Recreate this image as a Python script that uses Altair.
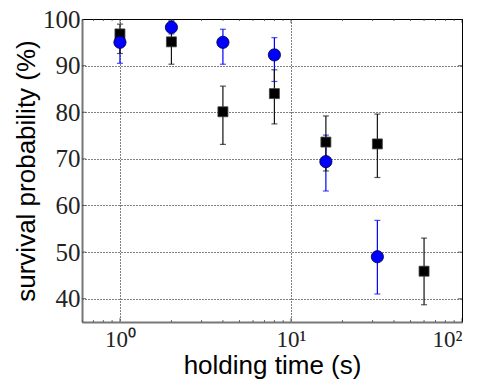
import altair as alt
import pandas as pd

# blue circles
blue_t = [1, 2, 4, 8, 16, 32]
blue_p = [95.0, 98.2, 95.0, 92.3, 69.4, 49.0]
blue_lo = [90.5, 96.8, 90.3, 86.6, 63.1, 41.0]
blue_hi = [97.5, 99.6, 97.8, 96.0, 75.1, 56.8]

# black squares
black_t = [1, 2, 4, 8, 16, 32, 60]
black_p = [96.8, 95.1, 80.1, 84.0, 73.6, 73.2, 45.9]
black_lo = [92.6, 90.3, 73.1, 77.5, 67.4, 66.0, 38.7]
black_hi = [98.9, 99.5, 85.6, 89.1, 79.2, 79.6, 53.0]

x_major = [1, 10, 100]
x_minor = [0.6, 0.7, 0.8, 0.9, 2, 3, 4, 5, 6, 7, 8, 9, 20, 30, 40, 50, 60, 70, 80, 90]
y_major = [40, 50, 60, 70, 80, 90]

blue = pd.DataFrame({"t": blue_t, "p": blue_p, "lo": blue_lo, "hi": blue_hi})
black = pd.DataFrame({"t": black_t, "p": black_p, "lo": black_lo, "hi": black_hi})
xt = pd.DataFrame({"t": x_major + x_minor, "len": [8] * len(x_major) + [4] * len(x_minor)})
yt = pd.DataFrame({"p": y_major})

xscale = alt.Scale(type="log", domain=[0.6, 100], nice=False)
yscale = alt.Scale(domain=[35, 100], nice=False, zero=False)

xaxis = alt.Axis(
    values=x_major,
    labelExpr="datum.value == 1 ? '10⁰' : datum.value == 10 ? '10¹' : '10²'",
    title="holding time (s)",
    grid=True,
)
yaxis = alt.Axis(values=y_major + [100], title="survival probability (%)", grid=True,
                 gridOpacity=1)


def X(field="t"):
    return alt.X(f"{field}:Q", scale=xscale, axis=xaxis)


def Y(field="p"):
    return alt.Y(f"{field}:Q", scale=yscale, axis=yaxis)


blue_col = "#0000ff"

blue_err = alt.Chart(blue).mark_rule(color=blue_col, strokeWidth=1.2).encode(
    x=X(), y=Y("lo"), y2="hi:Q")
blue_cap_lo = alt.Chart(blue).mark_tick(color=blue_col, orient="horizontal", size=6, thickness=1.2).encode(
    x=X(), y=Y("lo"))
blue_cap_hi = alt.Chart(blue).mark_tick(color=blue_col, orient="horizontal", size=6, thickness=1.2).encode(
    x=X(), y=Y("hi"))

black_err = alt.Chart(black).mark_rule(color="#111111", strokeWidth=1.2).encode(
    x=X(), y=Y("lo"), y2="hi:Q")
black_cap_lo = alt.Chart(black).mark_tick(color="#111111", orient="horizontal", size=6, thickness=1.2).encode(
    x=X(), y=Y("lo"))
black_cap_hi = alt.Chart(black).mark_tick(color="#111111", orient="horizontal", size=6, thickness=1.2).encode(
    x=X(), y=Y("hi"))

squares = alt.Chart(black).mark_point(shape="square", filled=True, color="black", size=100, opacity=1,
                                      stroke="#444444", strokeWidth=0.8).encode(x=X(), y=Y())
circles = alt.Chart(blue).mark_point(shape="circle", filled=True, color=blue_col, size=150, opacity=1,
                                     stroke="#000033", strokeWidth=0.8).encode(x=X(), y=Y())

xt_bottom = alt.Chart(xt).mark_tick(orient="vertical", color="#333333", thickness=1, clip=True).encode(
    x=X(), y=alt.Y(datum=35, scale=yscale, axis=yaxis), size=alt.Size("len:Q", scale=None, legend=None))
xt_top = alt.Chart(xt).mark_tick(orient="vertical", color="#333333", thickness=1, clip=True).encode(
    x=X(), y=alt.Y(datum=100, scale=yscale, axis=yaxis), size=alt.Size("len:Q", scale=None, legend=None))
yt_left = alt.Chart(yt).mark_tick(orient="horizontal", color="#333333", thickness=1, size=8, clip=True).encode(
    x=alt.X(datum=0.6, scale=xscale, axis=xaxis), y=Y())
yt_right = alt.Chart(yt).mark_tick(orient="horizontal", color="#333333", thickness=1, size=8, clip=True).encode(
    x=alt.X(datum=100, scale=xscale, axis=xaxis), y=Y())

chart = alt.layer(
    xt_bottom, xt_top, yt_left, yt_right,
    blue_err, blue_cap_lo, blue_cap_hi,
    black_err, black_cap_lo, black_cap_hi,
    squares, circles,
).properties(
    width=380, height=303,
    autosize=alt.AutoSizeParams(type="none"),
    padding={"left": 82, "top": 19, "right": 19, "bottom": 63},
).configure_view(
    stroke="black", strokeWidth=1,
).configure_axis(
    ticks=False,
    domain=True,
    domainColor="#777777",
    domainWidth=2,
    gridColor="black",
    gridDash=[1, 2],
    gridWidth=1,
    gridOpacity=1,
    labelFont="Liberation Serif",
    labelColor="#222222",
    titleFont="Liberation Sans",
    titleFontSize=26,
    titleFontWeight="normal",
    titleColor="black",
).configure_axisX(
    labelFontSize=23, labelPadding=6, titlePadding=1,
).configure_axisY(
    labelFontSize=25, labelPadding=2, titlePadding=3,
)

chart.save("out.html", embed_options={"renderer": "svg", "actions": False})
